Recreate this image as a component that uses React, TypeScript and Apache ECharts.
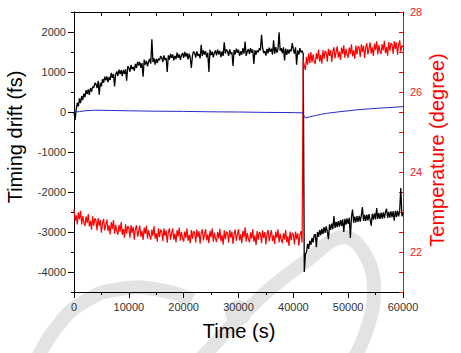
import React, { useEffect, useRef } from "react";
import * as echarts from "echarts";

// Sampling step of the timing-drift and temperature records (s)
const STEP_S = 200;

// Timing drift (fs), one value every STEP_S seconds from 0 to 60000 s
const timingDrift = [
  0, -200, 60, 230, 140, 340, 220, 400, 300, 460,
  370, 545, 450, 565, 430, 600, 510, 635, 605, 725,
  700, 601, 777, 430, 734, 640, 821, 727, 883, 794,
  890, 749, 873, 802, 976, 855, 952, 640, 941, 1013,
  900, 1057, 949, 1046, 898, 1050, 952, 1069, 780, 1143,
  1110, 1007, 1179, 1071, 1128, 1030, 1205, 1105, 1255, 1160,
  1250, 1103, 1221, 880, 1312, 1185, 1278, 1141, 1259, 1327,
  1210, 1820, 1247, 1338, 1184, 1330, 1226, 1337, 1293, 1399,
  1360, 1250, 1415, 1300, 1350, 1000, 1415, 1310, 1455, 1355,
  1440, 1289, 1403, 1322, 1486, 1355, 1443, 1301, 1414, 1477,
  1355, 1503, 1385, 1473, 1315, 1458, 1350, 1100, 1410, 1513,
  1470, 1357, 1519, 1401, 1448, 1340, 1682, 1399, 1541, 1438,
  1520, 1367, 1478, 1000, 1556, 1423, 1509, 1366, 1477, 1539,
  1415, 1561, 1443, 1529, 1370, 1512, 1403, 1740, 1461, 1562,
  1518, 1404, 1565, 1446, 1492, 1150, 1550, 1441, 1582, 1478,
  1560, 1406, 1517, 1433, 1594, 1460, 1760, 1402, 1513, 1574,
  1450, 1596, 1477, 1563, 1200, 1545, 1436, 1542, 1493, 1592,
  1548, 1930, 1595, 1475, 1522, 1412, 1578, 1469, 1608, 1504,
  1585, 1431, 1790, 1456, 1620, 1482, 1570, 1990, 1534, 1596,
  1472, 1618, 1290, 1586, 1426, 1567, 1459, 1563, 1514, 1720,
  1570, 1456, 1617, 1180, 1542, 1434, 1599, 1490, 1530, 1450,
  -4000, -3560, -3500, -3300, -3420, -3220, -3320, -3150, -3260, -3080,
  -3060, -3380, -3000, -3120, -2950, -3080, -2920, -3050, -2880, -3020,
  -2860, -2990, -3180, -2810, -2950, -2790, -2930, -2600, -2900, -2745,
  -2880, -2725, -2865, -2705, -2845, -2685, -3000, -2670, -2815, -2660,
  -2800, -2645, -3150, -2630, -2440, -2770, -2615, -2760, -2605, -2750,
  -2595, -2740, -2585, -2380, -2725, -2570, -2720, -2565, -2710, -2555,
  -2700, -2840, -2545, -2690, -2535, -2685, -2400, -2675, -2525, -2670,
  -2515, -2665, -2510, -2655, -2505, -2420, -2650, -2495, -2640, -2485,
  -2630, -2480, -2720, -2470, -2620, -2465, -2610, -2460, -1900, -2605,
  -2520,
];

// Temperature (degree), same sampling as timingDrift
const temperature = [
  23.07, 22.78, 22.92, 22.69, 22.99, 22.82, 23.03, 22.69, 22.9, 22.74,
  22.65, 22.89, 22.72, 22.95, 22.64, 22.78, 22.56, 22.89, 22.66, 22.84,
  22.79, 22.54, 22.85, 22.65, 22.8, 22.48, 22.73, 22.83, 22.54, 22.68,
  22.81, 22.52, 22.67, 22.44, 22.75, 22.58, 22.8, 22.46, 22.68, 22.52,
  22.43, 22.68, 22.51, 22.75, 22.43, 22.58, 22.36, 22.69, 22.46, 22.65,
  22.6, 22.36, 22.67, 22.48, 22.63, 22.31, 22.57, 22.67, 22.38, 22.53,
  22.66, 22.38, 22.53, 22.3, 22.61, 22.45, 22.66, 22.33, 22.55, 22.4,
  22.31, 22.56, 22.4, 22.64, 22.33, 22.47, 22.26, 22.59, 22.37, 22.56,
  22.51, 22.27, 22.59, 22.4, 22.54, 22.23, 22.49, 22.59, 22.31, 22.46,
  22.59, 22.31, 22.46, 22.24, 22.55, 22.39, 22.61, 22.28, 22.5, 22.35,
  22.26, 22.51, 22.35, 22.59, 22.28, 22.43, 22.22, 22.55, 22.33, 22.52,
  22.48, 22.24, 22.56, 22.37, 22.52, 22.21, 22.47, 22.57, 22.29, 22.44,
  22.57, 22.29, 22.44, 22.22, 22.53, 22.37, 22.59, 22.26, 22.48, 22.33,
  22.25, 22.5, 22.34, 22.58, 22.27, 22.42, 22.18, 22.54, 22.32, 22.51,
  22.47, 22.23, 22.55, 22.36, 22.51, 22.2, 22.46, 22.56, 22.28, 22.43,
  22.57, 22.29, 22.44, 22.22, 22.53, 22.37, 22.62, 22.26, 22.48, 22.33,
  22.24, 22.49, 22.33, 22.57, 22.26, 22.41, 22.17, 22.53, 22.31, 22.5,
  22.46, 22.22, 22.54, 22.35, 22.5, 22.19, 22.45, 22.55, 22.27, 22.42,
  22.55, 22.27, 22.42, 22.2, 22.51, 22.35, 22.57, 22.24, 22.46, 22.31,
  22.22, 22.47, 22.31, 22.55, 22.24, 22.39, 22.15, 22.51, 22.29, 22.48,
  22.43, 22.19, 22.51, 22.32, 22.47, 22.16, 22.42, 22.52, 22.24, 26.8,
  26.66, 26.55, 26.88, 26.68, 26.97, 26.72, 27.0, 26.74, 26.94, 26.76,
  26.71, 26.97, 26.82, 27.06, 26.76, 26.92, 26.71, 27.05, 26.83, 27.03,
  26.99, 26.76, 27.08, 26.9, 27.05, 26.75, 27.01, 27.12, 26.84, 27.0,
  27.14, 26.86, 27.01, 26.8, 27.11, 26.95, 27.17, 26.85, 27.08, 26.93,
  26.86, 27.11, 26.95, 27.19, 26.89, 27.04, 26.83, 27.16, 26.94, 27.14,
  27.11, 26.87, 27.19, 27.0, 27.16, 26.85, 27.11, 27.22, 26.94, 27.09,
  27.24, 26.96, 27.12, 26.9, 27.21, 27.05, 27.27, 26.94, 27.17, 27.02,
  26.95, 27.2, 27.04, 27.28, 26.97, 27.12, 26.91, 27.25, 27.03, 27.22,
  27.19, 26.95, 27.27, 27.08, 27.24, 26.93, 27.18, 27.29, 27.01, 27.16,
  27.12,
];

// Reference trace (fs, left axis)
const blueTimes = [0, 1000, 2000, 4000, 6000, 8000, 10000, 15000, 20000, 25000, 30000, 35000, 40000, 41600, 42200, 43000, 44000, 45000, 46000, 48000, 50000, 52000, 54000, 56000, 58000, 60000];
const blueValues = [0, 10, 30, 45, 40, 35, 30, 20, 15, 5, 0, -10, -15, -20, -150, -120, -90, -60, -35, 0, 30, 60, 80, 100, 115, 135];

const leftMajorTicks = [-4000, -3000, -2000, -1000, 0, 1000, 2000];

const FONT = "'Liberation Sans', Arial, Helvetica, sans-serif";
const WM = "#e3e3e3";

export default function App() {
  const ref = useRef<HTMLDivElement>(null);
  useEffect(() => {
    if (!ref.current) return;
    const chart = echarts.init(ref.current, undefined, { renderer: "svg" });
    const tickLabel = { fontSize: 11, color: "#333", fontFamily: FONT };
    chart.setOption({
      animation: false,
      backgroundColor: "#fff",
      grid: { left: 74, right: 58, top: 12, bottom: 61, containLabel: false },
      xAxis: [
        {
          type: "value", position: "bottom", min: 0, max: 60000, interval: 5000,
          axisLine: { show: true, onZero: false, lineStyle: { color: "#000", width: 1 } },
          axisTick: { show: true, length: 3, lineStyle: { color: "#000" } },
          axisLabel: { ...tickLabel, margin: 9, formatter: (v: number) => (v % 10000 === 0 ? String(v) : "") },
          splitLine: { show: false },
        },
        {
          type: "value", position: "bottom", min: 0, max: 60000, interval: 10000,
          axisLine: { show: false, onZero: false },
          axisTick: { show: true, length: 6, lineStyle: { color: "#000" } },
          axisLabel: { show: false },
          splitLine: { show: false },
        },
        {
          type: "value", position: "top", min: 0, max: 60000, interval: 5000,
          axisLine: { show: true, onZero: false, lineStyle: { color: "#000", width: 1 } },
          axisTick: { show: true, inside: true, length: 4, lineStyle: { color: "#000" } },
          axisLabel: { show: false },
          splitLine: { show: false },
        },
      ],
      yAxis: [
        {
          type: "value", position: "left", min: -4500, max: 2500, interval: 500,
          axisLine: { show: true, onZero: false, lineStyle: { color: "#000", width: 1 } },
          axisTick: { show: true, length: 3, lineStyle: { color: "#000" } },
          axisLabel: { ...tickLabel, margin: 8, formatter: (v: number) => (v % 1000 === 0 ? String(v) : "") },
          splitLine: { show: false },
        },
        {
          type: "value", position: "right", min: 21, max: 28, interval: 0.5,
          axisLine: { show: true, onZero: false, lineStyle: { color: "#ff0000", width: 1 } },
          axisTick: { show: true, inside: true, length: 4, lineStyle: { color: "#ff0000" } },
          axisLabel: { ...tickLabel, color: "#ff2020", margin: 7, formatter: (v: number) => (v % 2 === 0 ? String(v) : "") },
          splitLine: { show: false },
        },
        {
          type: "value", position: "left", min: -4500, max: 2500, interval: 500,
          axisLine: { show: false, onZero: false },
          axisTick: { show: true, length: 6, customValues: leftMajorTicks, lineStyle: { color: "#000" } },
          axisLabel: { show: false },
          splitLine: { show: false },
        },
      ],
      graphic: [
        { type: "polyline", z: -1, silent: true, shape: { points: [[36, 362], [56, 328], [84, 302], [120, 289], [160, 290], [192, 300]], smooth: 0.5 }, style: { stroke: WM, lineWidth: 14, fill: null } },
        { type: "polyline", z: -1, silent: true, shape: { points: [[198, 362], [262, 296], [305, 262], [343, 237], [366, 256], [374, 292], [366, 332], [352, 362]], smooth: 0.4 }, style: { stroke: WM, lineWidth: 14, fill: null } },
        { type: "circle", z: -1, silent: true, shape: { cx: 238, cy: 313, r: 13 }, style: { fill: WM } },
        { type: "text", z: 10, x: 15, y: 137, rotation: Math.PI / 2, style: { text: "Timing drift (fs)", fontSize: 20, fontFamily: FONT, fill: "#000", align: "center", verticalAlign: "middle" } },
        { type: "text", z: 10, x: 437, y: 150, rotation: Math.PI / 2, style: { text: "Temperature (degree)", fontSize: 20, fontFamily: FONT, fill: "#ff0000", align: "center", verticalAlign: "middle" } },
        { type: "text", z: 10, x: 239, y: 331, style: { text: "Time (s)", fontSize: 20, fontFamily: FONT, fill: "#000", align: "center", verticalAlign: "middle" } },
      ],
      series: [
        {
          name: "Timing drift", type: "line", xAxisIndex: 0, yAxisIndex: 0,
          data: timingDrift.map((v, i) => [i * STEP_S, v]),
          showSymbol: false, symbol: "none", lineStyle: { color: "#000", width: 1.3 },
        },
        {
          name: "Temperature", type: "line", xAxisIndex: 0, yAxisIndex: 1,
          data: temperature.map((v, i) => [i * STEP_S, v]),
          showSymbol: false, symbol: "none", lineStyle: { color: "#ff0000", width: 1.2 },
        },
        {
          name: "Reference", type: "line", xAxisIndex: 0, yAxisIndex: 0,
          data: blueTimes.map((t, i) => [t, blueValues[i]]),
          showSymbol: false, symbol: "none", lineStyle: { color: "#2a2acc", width: 1 },
        },
      ],
    });
    return () => chart.dispose();
  }, []);
  return <div ref={ref} style={{ width: 461, height: 353, position: "absolute", left: 0, top: 0 }} />;
}
